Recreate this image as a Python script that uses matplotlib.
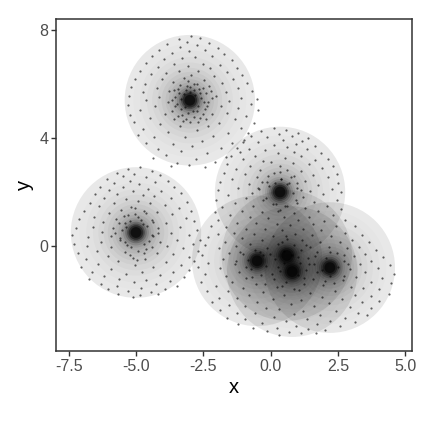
import matplotlib
matplotlib.use("Agg")
import matplotlib.pyplot as plt
from matplotlib.patches import Circle
import numpy as np

# hand: far fewer dots than the original, same shape
cluster_a = [(-3.42,7.66),(-2.95,7.78),(-2.61,7.71),(-3.12,7.55),(-2.28,7.52),(-3.84,7.48),(-2.74,7.44),(-3.38,7.38),
    (-1.96,7.35),(-4.14,7.28),(-2.44,7.27),(-3.03,7.22),(-3.66,7.16),(-1.72,7.12),(-4.41,7.03),(-2.18,7.05),(-2.82,7.01),
    (-3.29,6.97),(-3.95,6.93),(-1.44,6.88),(-4.62,6.79),(-3.58,6.76),(-2.52,6.74),(-1.88,6.71),(-3.07,6.68),(-4.18,6.63),
    (-1.25,6.6),(-2.26,6.58),(-4.85,6.49),(-3.41,6.5),(-2.71,6.47),(-1.61,6.44),(-3.88,6.41),(-4.46,6.36),(-1.05,6.32),
    (-2.97,6.33),(-2.09,6.3),(-3.23,6.22),(-5.02,6.2),(-1.38,6.18),(-4.02,6.17),(-2.48,6.14),(-0.86,6.05),(-3.61,6.07),
    (-1.82,6.03),(-4.66,6.01),(-2.83,6.02),(-3.12,5.93),(-5.18,5.88),(-2.29,5.91),(-4.21,5.86),(-1.21,5.84),(-3.44,5.83),
    (-2.66,5.81),(-0.68,5.76),(-3.79,5.74),(-1.66,5.72),(-4.73,5.69),(-2.98,5.72),(-2.41,5.68),(-3.22,5.64),(-5.27,5.55),
    (-2.81,5.6),(-2.02,5.57),(-4.14,5.53),(-3.56,5.52),(-1.09,5.5),(-0.52,5.45),(-2.57,5.47),(-3.33,5.46),(-4.62,5.4),
    (-1.53,5.38),(-3.81,5.35),(-2.33,5.33),(-5.29,5.24),(-0.74,5.27),(-3.47,5.26),(-2.68,5.2),(-4.29,5.18),(-1.84,5.19),
    (-3.18,5.14),(-1.2,5.1),(-2.45,5.07),(-4.86,5.05),(-0.46,5.03),(-3.67,5.02),(-2.89,4.99),(-5.21,4.86),(-1.63,4.94),
    (-3.94,4.89),(-2.16,4.88),(-3.28,4.86),(-0.91,4.81),(-4.48,4.76),(-2.61,4.74),(-1.34,4.7),(-3.59,4.69),(-5.08,4.58),
    (-0.61,4.57),(-2.98,4.58),(-1.92,4.55),(-4.12,4.52),(-2.31,4.46),(-3.38,4.43),(-4.73,4.34),(-1.1,4.36),(-0.83,4.2),
    (-2.74,4.28),(-3.82,4.23),(-1.58,4.18),(-4.94,4.12),(-2.14,4.07),(-4.32,4.05),(-3.17,4.03),(-0.98,3.93),(-2.56,3.9),
    (-4.61,3.82),(-1.42,3.8),(-3.61,3.78),(-2.92,3.72),(-1.86,3.64),(-4.17,3.6),(-1.13,3.5),(-3.33,3.53),(-2.38,3.44),
    (-3.89,3.36),(-1.64,3.29),(-4.38,3.25),(-2.78,3.22),(-2.08,3.12),(-3.47,3.09),(-3.02,3.0),(-2.45,2.94),(-3.71,2.98),
    (-3.06,6.12),(-2.72,6.01),(-3.36,5.98),(-2.52,5.86),(-3.01,5.88),(-3.58,5.79),(-2.23,5.73),(-2.84,5.77),(-3.14,5.78),
    (-2.62,5.66),(-3.42,5.68),(-2.16,5.48),(-3.67,5.42),(-2.49,5.33),(-3.54,5.18),(-2.37,5.18),(-3.31,5.06),(-2.73,5.02),
    (-3.08,4.93),(-2.52,4.88),(-3.44,4.81),(-2.83,4.78),(-3.13,4.71),(-2.39,4.71),(-2.68,4.58),(-3.26,4.62)]

cluster_b = [(-5.31,2.86),(-4.86,2.91),(-4.42,2.79),(-5.72,2.72),(-5.06,2.68),(-4.11,2.64),(-5.48,2.58),(-4.63,2.55),
    (-6.06,2.47),(-3.82,2.42),(-5.23,2.41),(-4.31,2.38),(-5.81,2.33),(-4.87,2.3),(-6.32,2.2),(-3.57,2.19),(-5.49,2.17),
    (-4.56,2.13),(-6.02,2.07),(-4.08,2.05),(-5.12,2.02),(-3.33,1.95),(-6.54,1.91),(-5.7,1.92),(-4.73,1.9),(-4.32,1.84),
    (-6.19,1.79),(-3.71,1.77),(-5.36,1.75),(-4.94,1.68),(-6.71,1.6),(-3.12,1.63),(-5.83,1.6),(-4.48,1.58),(-3.94,1.52),
    (-6.36,1.47),(-5.17,1.46),(-3.4,1.41),(-6.92,1.3),(-5.55,1.35),(-4.69,1.31),(-2.96,1.3),(-4.21,1.27),(-6.02,1.21),
    (-3.67,1.17),(-5.29,1.16),(-6.55,1.09),(-4.93,1.08),(-3.15,1.04),(-7.12,0.99),(-5.74,0.99),(-4.42,0.97),(-2.83,0.92),
    (-6.22,0.89),(-3.88,0.86),(-5.41,0.85),(-4.73,0.83),(-7.23,0.68),(-6.61,0.7),(-3.36,0.72),(-5.87,0.68),(-4.18,0.65),
    (-2.72,0.6),(-5.52,0.58),(-6.28,0.52),(-3.71,0.5),(-7.36,0.41),(-3.02,0.4),(-5.91,0.37),(-4.36,0.36),(-6.78,0.33),
    (-2.64,0.24),(-5.61,0.23),(-3.46,0.22),(-6.31,0.15),(-4.12,0.13),(-7.31,0.09),(-2.88,0.06),(-5.33,0.03),(-3.83,0.0),
    (-6.82,-0.01),(-5.94,-0.05),(-3.24,-0.09),(-4.62,-0.11),(-2.71,-0.18),(-6.46,-0.2),(-7.16,-0.26),(-5.41,-0.21),(-4.23,-0.25),
    (-3.64,-0.31),(-6.03,-0.36),(-3.03,-0.39),(-6.84,-0.48),(-5.12,-0.43),(-4.66,-0.47),(-2.83,-0.57),(-5.66,-0.55),(-3.89,-0.6),
    (-6.41,-0.66),(-3.31,-0.71),(-7.03,-0.77),(-5.02,-0.72),(-4.38,-0.78),(-5.94,-0.84),(-3.02,-0.89),(-6.62,-0.96),(-4.78,-0.95),
    (-3.63,-0.98),(-5.38,-1.02),(-4.12,-1.07),(-6.18,-1.1),(-3.21,-1.15),(-6.74,-1.24),(-5.63,-1.22),(-4.62,-1.25),(-3.74,-1.3),
    (-5.09,-1.33),(-6.29,-1.41),(-4.24,-1.42),(-3.48,-1.48),(-5.72,-1.5),(-4.82,-1.55),(-6.03,-1.61),(-3.92,-1.6),(-5.31,-1.65),
    (-4.43,-1.7),(-5.68,-1.77),(-4.86,-1.81),(-5.12,-1.88),(-4.18,-1.79),
    (-5.04,1.39),(-4.62,1.22),(-5.46,1.12),(-5.03,1.18),(-4.38,0.89),(-5.63,0.87),(-4.82,0.98),(-5.24,0.92),(-4.58,0.74),
    (-5.36,0.71),(-4.18,0.47),(-5.77,0.49),(-4.41,0.42),(-5.58,0.3),(-4.53,0.17),(-5.42,0.14),(-4.72,0.07),(-5.18,-0.02),
    (-4.39,-0.05),(-4.94,-0.18),(-5.21,-0.34),(-4.71,-0.27),(-4.98,-0.52)]

cluster_big = [(0.12,4.38),(0.58,4.31),(-0.34,4.26),(1.02,4.2),(0.31,4.16),(-0.72,4.09),(0.79,4.08),(1.38,4.01),(-0.13,4.02),
    (0.46,3.94),(-1.04,3.87),(1.16,3.89),(-0.48,3.84),(0.93,3.78),(1.66,3.72),(0.14,3.76),(-1.26,3.64),(0.61,3.66),(-0.81,3.6),
    (1.34,3.59),(-0.22,3.55),(1.88,3.46),(0.86,3.47),(0.27,3.43),(-1.48,3.35),(-0.59,3.35),(1.14,3.32),(2.12,3.22),(0.52,3.27),
    (-1.02,3.21),(1.63,3.18),(-0.27,3.16),(0.03,3.12),(-1.62,3.04),(0.82,3.06),(1.41,3.02),(2.32,2.97),(-0.76,2.98),(0.33,2.96),
    (1.91,2.89),(-1.28,2.85),(-0.38,2.82),(0.62,2.82),(1.12,2.78),(2.48,2.68),(-1.74,2.7),(0.13,2.7),(-0.94,2.66),(1.58,2.63),
    (0.86,2.58),(2.14,2.54),(-0.52,2.54),(-1.43,2.47),(0.38,2.49),(-1.88,2.36),(1.29,2.42),(2.52,2.35),(-0.14,2.37),(-0.82,2.3),
    (0.69,2.33),(1.77,2.27),(-1.96,2.08),(-1.21,2.14),(-0.47,2.16),(0.98,2.16),(2.28,2.11),(2.63,1.99),(-0.06,2.22),(1.46,2.05),
    (-0.68,1.96),(0.82,1.98),(-1.58,1.88),(1.94,1.92),(-2.02,1.7),(-0.91,1.76),(1.21,1.8),(2.46,1.72),(-0.28,1.72),(0.98,1.61),
    (1.62,1.64),(-1.31,1.58),(0.08,1.54),(-1.79,1.46),(2.1,1.5),(0.55,1.48),(-0.64,1.47),(-2.08,1.27),(1.27,1.41),(2.62,1.36),
    (-1.05,1.3),(0.26,1.28),(1.76,1.29),(-0.32,1.25),(0.88,1.24),(-1.52,1.14),(2.31,1.15),(-0.78,1.09),(0.48,1.07),(1.42,1.08),
    (-1.96,0.98),(-0.08,1.03),(2.78,0.97),(1.02,0.96),(1.98,0.93),(-1.24,0.86),(-0.53,0.85),(0.23,0.82),(0.71,0.78),(1.58,0.8),
    (-2.21,0.73),(-1.65,0.7),(2.42,0.74),(3.12,0.74),(-0.91,0.64),(1.22,0.63),(-0.22,0.62),(0.42,0.58),(1.88,0.58),(-1.36,0.49),
    (2.76,0.5),(-1.94,0.44),(0.92,0.45),(-0.62,0.43),(3.38,0.42),(1.52,0.4),(0.08,0.38),(2.26,0.37),(-2.34,0.33),(-1.08,0.28),
    (0.62,0.25),(3.02,0.24),(-0.33,0.21),(1.18,0.21),(-1.68,0.16),(2.58,0.16),(1.84,0.13),(3.66,0.15),(-0.78,0.07),(0.28,0.06),
    (0.88,0.03),(-2.42,0.02),(-1.28,-0.01),(1.46,-0.02),(2.18,-0.04),(3.28,-0.04),(-1.92,-0.09),(-0.12,-0.08),(2.82,-0.09),(3.92,-0.14),
    (-0.58,-0.16),(0.51,-0.18),(1.12,-0.16),(-1.54,-0.25),(1.72,-0.24),(2.46,-0.27),(3.52,-0.28),(-2.56,-0.34),(-1.04,-0.31),(-0.28,-0.34),
    (0.78,-0.34),(3.08,-0.38),(4.18,-0.4),(1.38,-0.43),(2.04,-0.44),(-1.78,-0.49),(-0.84,-0.52),(0.16,-0.5),(2.71,-0.54),(3.74,-0.55),
    (-2.31,-0.62),(-1.34,-0.65),(0.49,-0.62),(1.08,-0.64),(1.62,-0.66),(3.32,-0.67),(4.42,-0.71),(-2.68,-0.76),(-0.16,-0.74),(2.52,-0.76),
    (-1.88,-0.83),(-0.72,-0.85),(3.98,-0.83),(1.32,-0.88),(1.92,-0.88),(2.94,-0.87),(-1.18,-0.95),(0.34,-0.92),(3.52,-0.98),(4.58,-1.03),
    (-2.42,-1.02),(-0.36,-1.07),(1.02,-1.08),(-1.66,-1.12),(2.22,-1.12),(3.18,-1.15),(4.12,-1.17),(-0.92,-1.2),(0.12,-1.21),(1.58,-1.23),
    (2.68,-1.27),(-2.58,-1.32),(-1.42,-1.33),(0.58,-1.34),(3.72,-1.35),(4.46,-1.38),(-0.54,-1.4),(1.24,-1.42),(1.96,-1.44),(-2.02,-1.49),
    (2.98,-1.51),(-1.02,-1.54),(0.22,-1.53),(3.42,-1.56),(4.02,-1.6),(0.86,-1.61),(-2.36,-1.68),(-1.58,-1.66),(2.38,-1.68),(-0.28,-1.69),
    (1.48,-1.73),(4.38,-1.78),(-0.82,-1.8),(0.48,-1.8),(3.12,-1.82),(3.74,-1.84),(1.92,-1.89),(-1.92,-1.92),(-1.24,-1.94),(0.08,-1.96),
    (2.66,-1.96),(1.14,-1.99),(-2.18,-2.08),(-0.52,-2.06),(4.02,-2.05),(3.38,-2.08),(0.74,-2.14),(2.18,-2.13),(-1.56,-2.2),(1.62,-2.22),
    (-0.94,-2.24),(2.94,-2.25),(3.72,-2.3),(-0.16,-2.29),(0.32,-2.33),(-1.88,-2.38),(1.22,-2.39),(2.42,-2.41),(3.26,-2.47),(-1.24,-2.48),
    (-0.58,-2.5),(0.88,-2.52),(1.84,-2.54),(3.58,-2.57),(-1.62,-2.65),(0.12,-2.62),(2.78,-2.68),(-0.96,-2.72),(1.34,-2.71),(0.58,-2.78),
    (2.22,-2.79),(3.12,-2.82),(-0.32,-2.87),(-1.22,-2.9),(1.72,-2.89),(0.94,-2.96),(2.58,-2.97),(-0.66,-3.03),(0.22,-3.03),(1.38,-3.08),
    (2.02,-3.1),(-0.12,-3.14),(0.68,-3.18),(1.12,-3.24),(1.68,-3.22),(0.32,-3.28),
    (0.35,2.76),(-0.08,2.58),(0.76,2.55),(0.38,2.48),(-0.31,2.37),(0.98,2.34),(0.18,2.33),(0.61,2.3),(-0.44,2.11),(1.12,2.08),
    (-0.17,1.78),(0.93,1.72),(0.21,1.54),(0.62,1.49),(0.36,1.35),(-0.38,-0.21),(0.42,0.14),(1.3,0.02),(-1.12,-0.24),(-0.92,-0.78),
    (-0.04,-0.28),(-0.71,-1.16),(0.06,-1.02),(-1.28,-0.56),(0.28,-0.78),(1.42,-0.66),(1.02,-0.4),(0.56,0.38),(1.24,-1.2),(0.44,-1.48),
    (1.66,-0.36),(2.74,-0.32),(2.02,-1.28),(2.72,-1.12),(1.72,-0.96),(2.88,-0.68),(2.22,-0.22),(2.36,-1.38),(-0.2,-1.42),(1.04,-1.62)]

core_x = [-3.0, -5.0, 0.35, -0.5, 0.6, 0.8, 2.2]
core_y = [5.4, 0.5, 2.0, -0.55, -0.35, -0.95, -0.8]

# how far each cloud reaches and how its darkness builds toward the centre
shell_radius = [2.42, 2.1, 1.85, 1.6, 1.4, 1.2, 1.05, 0.9, 0.78, 0.66, 0.56, 0.48, 0.4, 0.33, 0.27, 0.2]
shell_alpha = [0.09, 0.012, 0.015, 0.02, 0.025, 0.03, 0.035, 0.04, 0.05, 0.06, 0.08, 0.12, 0.2, 0.3, 0.45, 0.6]

x_ticks = [-7.5, -5.0, -2.5, 0.0, 2.5, 5.0]
y_ticks = [0, 4, 8]

plt.rcParams['font.family'] = ['Liberation Sans', 'DejaVu Sans']

fig = plt.figure(figsize=(4.23, 4.23), dpi=100)
ax = fig.add_axes([56 / 423, 1 - 351 / 423, 356 / 423, 332 / 423])

# grey tone of each cloud, overlaps get darker on their own
for r, a in zip(shell_radius, shell_alpha):
    for cx, cy in zip(core_x, core_y):
        ax.add_patch(Circle((cx, cy), r, facecolor="black", edgecolor="none", alpha=a))

dots = np.array(cluster_a + cluster_b + cluster_big)
ax.scatter(dots[:, 0], dots[:, 1], s=2.5, c="black", alpha=0.6, linewidths=0)

ax.set_xlim(-7.97, 5.25)
ax.set_ylim(-3.89, 8.41)
ax.set_xticks(x_ticks)
ax.set_xticklabels(["-7.5", "-5.0", "-2.5", "0.0", "2.5", "5.0"])
ax.set_yticks(y_ticks)
ax.tick_params(length=3.5, width=1, color="#333333", labelcolor="#4d4d4d", labelsize=11.5, pad=2)
for spine in ax.spines.values():
    spine.set_linewidth(1.1)
    spine.set_color("#333333")
ax.set_xlabel("x", fontsize=14.5, labelpad=3)
ax.set_ylabel("y", fontsize=14.5, labelpad=4)

fig.savefig("out.png", dpi=100)
